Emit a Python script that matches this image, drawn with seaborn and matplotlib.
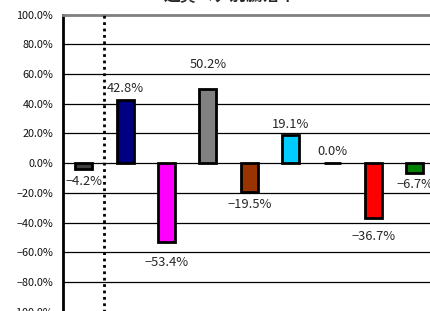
import matplotlib
matplotlib.use("Agg")
import matplotlib.pyplot as plt
import seaborn as sns
import pandas as pd
from matplotlib.ticker import FuncFormatter

# --- data ---
categories = ["A", "B", "C", "D", "E", "F", "G", "H", "I"]
values = [-4.2, 42.8, -53.4, 50.2, -19.5, 19.1, 0.0, -36.7, -6.7]
colors = ["#404040", "#000080", "#FF00FF", "#808080", "#993300",
          "#00CCFF", "#000000", "#FF0000", "#008000"]
y_ticks = [-100, -80, -60, -40, -20, 0, 20, 40, 60, 80, 100]
title = "通貨ペア別騰落率"

# gap between bar end and its label, in pixels (as placed in the original)
label_gap_px = [6, 5, 14, 18, 6, 4, 5, 12, 5]

sns.set_style("white")
plt.rcParams["font.family"] = ["Noto Sans CJK JP", "DejaVu Sans"]


def pct(v):
    return f"{v:.1f}%".replace("-", "\u2212")


df = pd.DataFrame({"cat": categories, "val": values})

fig = plt.figure(figsize=(4.3, 3.11), dpi=100)
ax = fig.add_axes([63 / 430, -0.002, 9 * 41.4 / 430, 0.955])

sns.barplot(data=df, x="cat", y="val", hue="cat", palette=colors,
            legend=False, width=0.41, ax=ax, edgecolor="black",
            linewidth=2.0, saturation=1)

ax.set_ylim(-100, 100)
ax.set_xlim(-0.5, len(categories) - 0.5)
ax.set_yticks(y_ticks)
ax.yaxis.set_major_formatter(FuncFormatter(lambda v, p: pct(v)))
ax.tick_params(axis="y", labelsize=7.8, length=0, pad=7, labelcolor="#111111")
ax.set_xticks([])
ax.set_xlabel("")
ax.set_ylabel("")

for t in y_ticks[1:-1]:
    ax.axhline(t, color="black", lw=0.9, zorder=0)

ax.spines["left"].set_color("black")
ax.spines["left"].set_linewidth(2.0)
ax.spines["top"].set_color("#808080")
ax.spines["top"].set_linewidth(2.0)
ax.spines["right"].set_visible(False)
ax.spines["bottom"].set_visible(False)

# dotted separator after first category
ax.axvline(0.5, color="black", lw=2.0, linestyle=(0, (1, 1.3)), zorder=3)

# value labels
for i, (v, gap) in enumerate(zip(values, label_gap_px)):
    off = gap * 0.72
    if v >= 0:
        ax.annotate(pct(v), (i, v), xytext=(0, off), textcoords="offset points",
                    ha="center", va="bottom", fontsize=9.3)
    else:
        ax.annotate(pct(v), (i, v), xytext=(0, -off), textcoords="offset points",
                    ha="center", va="top", fontsize=9.3)

fig.text(0.535, 1.012, title, ha="center", va="center", fontsize=12,
         fontweight="bold")

fig.savefig("out.png", dpi=100)
